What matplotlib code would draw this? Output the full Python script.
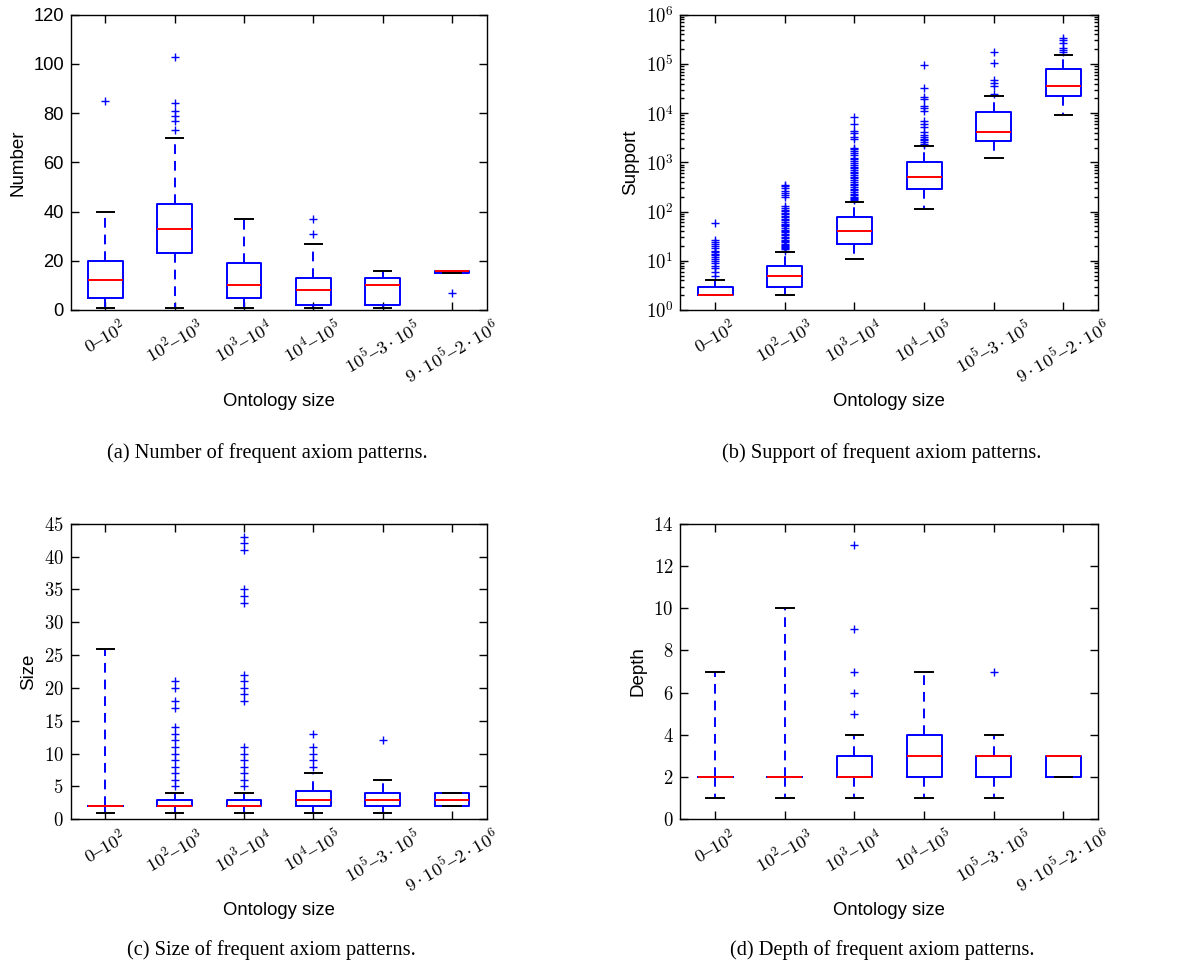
import math
import matplotlib
matplotlib.use("Agg")
import matplotlib.pyplot as plt
from matplotlib.ticker import FuncFormatter, FixedLocator, LogLocator, NullFormatter

plt.rcParams["mathtext.fontset"] = "cm"
plt.rcParams["font.family"] = ["Liberation Sans", "DejaVu Sans"]
plt.rcParams["lines.scale_dashes"] = False
plt.rcParams["lines.dashed_pattern"] = [7.0, 5.0]

# ---------------- data ----------------
categories = [r"$0$–$10^{2}$", r"$10^{2}$–$10^{3}$", r"$10^{3}$–$10^{4}$",
              r"$10^{4}$–$10^{5}$", r"$10^{5}$–$3\cdot10^{5}$",
              r"$9\cdot10^{5}$–$2\cdot10^{6}$"]

# (a) Number of frequent axiom patterns
number_q1 = [5, 23, 5, 2, 2, 15]
number_med = [12, 33, 10, 8, 10, 16]
number_q3 = [20, 43, 19, 13, 13, 16]
number_lo = [1, 1, 1, 1, 1, 15]
number_hi = [40, 70, 37, 27, 16, 16]
number_fliers = [[85], [73, 77, 79, 81, 84, 103], [], [31, 37], [], [7]]

# (b) Support of frequent axiom patterns
support_q1 = [2, 3, 22, 283, 2670, 22200]
support_med = [2, 5, 40, 500, 4130, 35000]
support_q3 = [3, 8, 76, 1030, 10700, 80000]
support_lo = [2, 2, 11, 113, 1225, 9200]
support_hi = [4, 15, 160, 2150, 22200, 151000]
support_fliers = [
    [5, 6, 7, 8, 9, 10, 11, 12, 13, 14, 15, 16, 18, 20, 22, 24, 26, 58],
    [16, 17, 18, 19, 20, 21, 22, 24, 25, 27, 29, 31, 33, 35, 38, 40, 43, 46,
     50, 53, 57, 61, 66, 71, 76, 82, 88, 95, 102, 110, 120, 130, 200, 215,
     235, 260, 300, 330, 350],
    [170, 180, 190, 200, 215, 230, 250, 270, 290, 310, 340, 370, 400, 430,
     470, 510, 550, 600, 650, 700, 760, 820, 890, 960, 1050, 1150, 1250,
     1400, 1550, 1700, 1850, 2000, 3000, 3300, 4000, 4300, 5900, 8500],
    [2250, 2400, 2600, 2800, 3000, 3300, 3600, 4200, 5300, 6000, 6800,
     11000, 12500, 14000, 19500, 21500, 32000, 93000],
    [24000, 36000, 41000, 48000, 106000, 178000],
    [175000, 190000, 215000, 260000, 300000, 330000],
]

# (c) Size of frequent axiom patterns
size_q1 = [2, 2, 2, 2, 2, 2]
size_med = [2, 2, 2, 3, 3, 3]
size_q3 = [2, 3, 3, 4.25, 4, 4]
size_lo = [1, 1, 1, 1, 1, 2]
size_hi = [26, 4, 4, 7, 6, 4]
size_fliers = [[],
               [5, 6, 7, 8, 9, 10, 11, 12, 13, 14, 17, 18, 20, 21],
               [5, 6, 7, 8, 9, 10, 11, 18, 19, 20, 21, 22, 33, 34, 35, 41, 42, 43],
               [8, 9, 10, 11, 13],
               [12],
               []]

# (d) Depth of frequent axiom patterns
depth_q1 = [2, 2, 2, 2, 2, 2]
depth_med = [2, 2, 2, 3, 3, 3]
depth_q3 = [2, 2, 3, 4, 3, 3]
depth_lo = [1, 1, 1, 1, 1, 2]
depth_hi = [7, 10, 4, 7, 4, 3]
depth_fliers = [[], [], [5, 6, 7, 9, 13], [], [7], []]

y_labels = ["Number", "Support", "Size", "Depth"]
x_label = "Ontology size"
captions = ["(a) Number of frequent axiom patterns.",
            "(b) Support of frequent axiom patterns.",
            "(c) Size of frequent axiom patterns.",
            "(d) Depth of frequent axiom patterns."]


def make_stats(q1, med, q3, lo, hi, fl):
    return [dict(q1=a, med=b, q3=c, whislo=d, whishi=e, fliers=f)
            for a, b, c, d, e, f in zip(q1, med, q3, lo, hi, fl)]


panels = [
    make_stats(number_q1, number_med, number_q3, number_lo, number_hi, number_fliers),
    make_stats(support_q1, support_med, support_q3, support_lo, support_hi, support_fliers),
    make_stats(size_q1, size_med, size_q3, size_lo, size_hi, size_fliers),
    make_stats(depth_q1, depth_med, depth_q3, depth_lo, depth_hi, depth_fliers),
]

W, H = 1177, 976
fig = plt.figure(figsize=(W / 100, H / 100), dpi=100)
fig.patch.set_facecolor("white")

# axes rectangles in pixels: left, top, right, bottom
rects = [(70.7, 14.7, 486.7, 310.0), (680.3, 14.7, 1098.3, 310.0),
         (70.7, 523.7, 486.7, 819.3), (680.3, 523.7, 1098.3, 819.3)]
caption_pos = [(267, 453), (882, 453), (271, 950), (882, 950)]

lw = 1.4
for i, (stats, rect) in enumerate(zip(panels, rects)):
    l, t, r, b = rect
    ax = fig.add_axes([l / W, 1 - b / H, (r - l) / W, (b - t) / H])
    ax.bxp(stats, positions=range(1, 7), widths=0.5,
           boxprops=dict(color="b", lw=lw, zorder=2),
           medianprops=dict(color="r", lw=lw, zorder=2.3),
           whiskerprops=dict(color="b", lw=lw, linestyle="--", zorder=2),
           capprops=dict(color="k", lw=lw, zorder=2.2),
           flierprops=dict(marker="+", markeredgecolor="b", markersize=6,
                           markeredgewidth=1.0, linestyle="none"),
           showfliers=True)
    ax.set_xlim(0.5, 6.5)
    ax.set_xticks(range(1, 7))
    ax.set_xticklabels(categories, rotation=30, ha="center",
                       family=["Liberation Serif", "DejaVu Serif"], fontsize=13.3)
    ax.tick_params(direction="in", top=True, right=True, length=5.5, width=1,
                   pad=5)
    if i == 0:
        ax.set_ylim(0, 120)
        ax.set_yticks(range(0, 121, 20))
        for lab in ax.get_yticklabels():
            lab.set_fontsize(13.2)
    elif i == 1:
        ax.set_yscale("log")
        ax.set_ylim(1, 1e6)
        ax.yaxis.set_major_locator(FixedLocator([10 ** k for k in range(7)]))
        ax.yaxis.set_major_formatter(FuncFormatter(
            lambda v, p: r"$10^{%d}$" % round(math.log10(v))))
        ax.yaxis.set_minor_locator(LogLocator(base=10, subs=range(2, 10), numticks=20))
        ax.yaxis.set_minor_formatter(NullFormatter())
        ax.tick_params(axis="y", which="minor", direction="in", left=True,
                       right=True, length=3, width=1)
        for lab in ax.get_yticklabels():
            lab.set_fontsize(13.5)
    elif i == 2:
        ax.set_ylim(0, 45)
        ax.set_yticks(range(0, 46, 5))
        ax.yaxis.set_major_formatter(FuncFormatter(lambda v, p: r"$%d$" % v))
        for lab in ax.get_yticklabels():
            lab.set_fontsize(13.5)
    else:
        ax.set_ylim(0, 14)
        ax.set_yticks(range(0, 15, 2))
        ax.yaxis.set_major_formatter(FuncFormatter(lambda v, p: r"$%d$" % v))
        for lab in ax.get_yticklabels():
            lab.set_fontsize(13.5)
    for sp in ax.spines.values():
        sp.set_linewidth(1.0)
    ax.set_ylabel(y_labels[i], fontsize=13.5, labelpad=5)
    ax.set_xlabel(x_label, fontsize=13.3, labelpad=4)

    cx, cy = caption_pos[i]
    fig.text(cx / W, 1 - cy / H, captions[i], ha="center", va="center",
             family=["Liberation Serif", "DejaVu Serif"], fontsize=14.7)

fig.savefig("out.png", dpi=100, facecolor="white")
